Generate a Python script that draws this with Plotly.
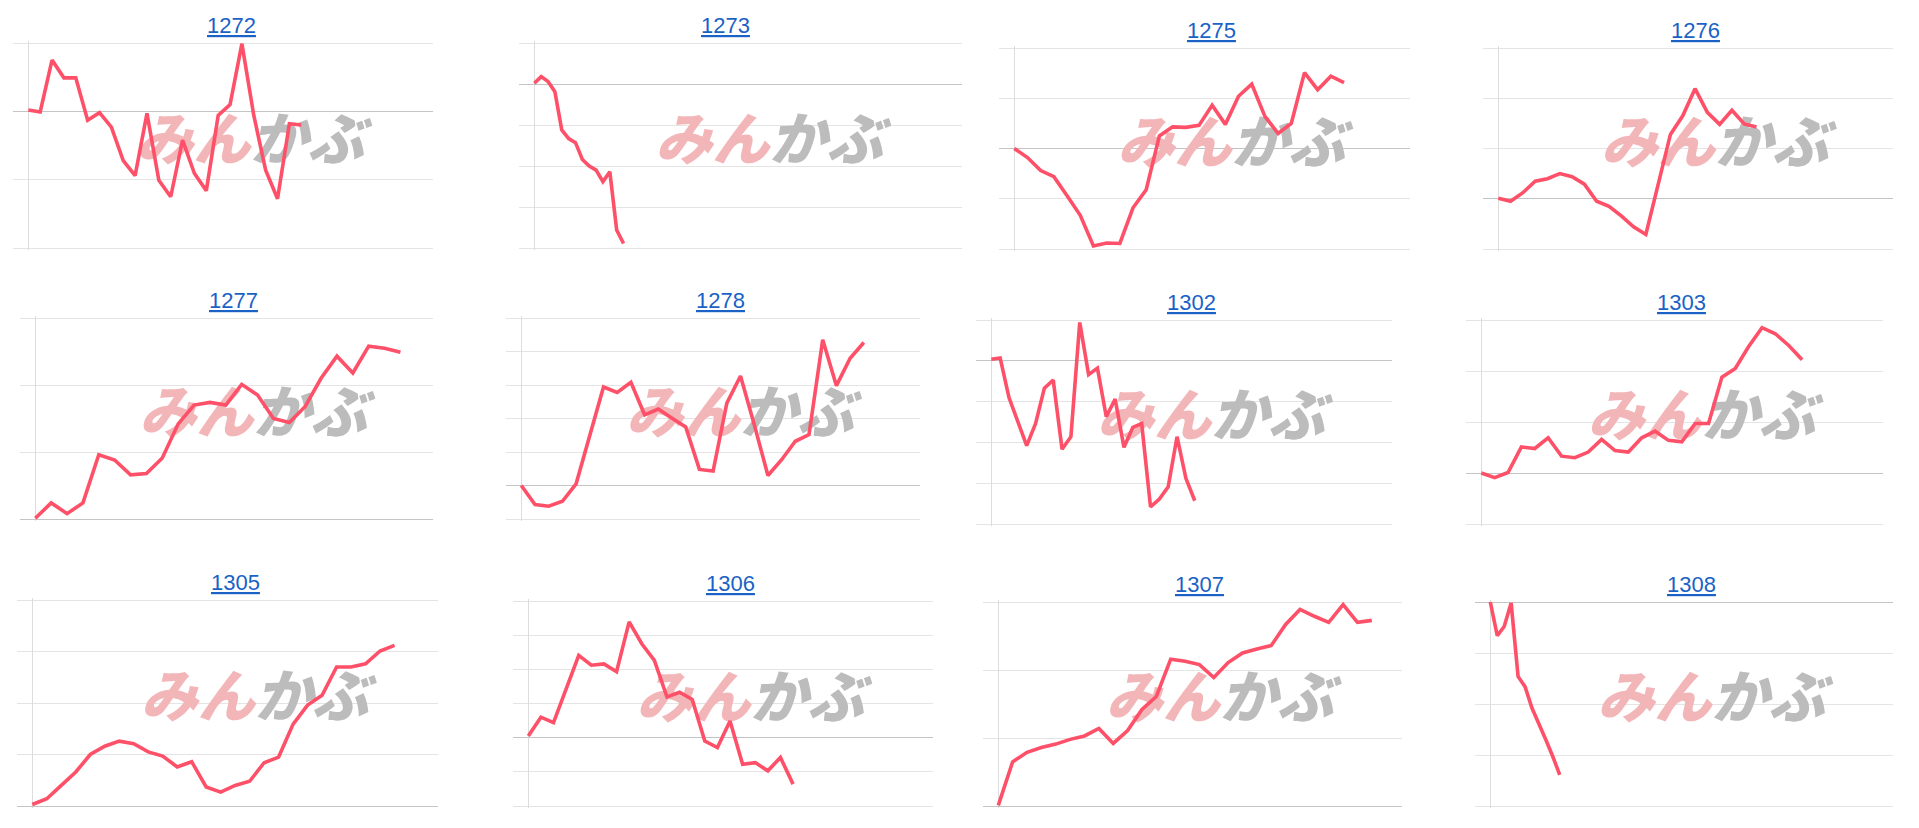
import plotly.graph_objects as go

tickers = ["1272", "1273", "1275", "1276", "1277", "1278",
           "1302", "1303", "1305", "1306", "1307", "1308"]

# change from the open, in grid steps
chg_1272 = [0.02, -0.01, 0.75, 0.49, 0.49, -0.13, -0.02, -0.23, -0.72, -0.94, -0.03, -1.01,
            -1.25, -0.42, -0.91, -1.16, -0.06, 0.10, 0.99, -0.06, -0.86, -1.28, -0.18, -0.20]
chg_1273 = [0.02, 0.18, 0.06, -0.19, -1.12, -1.33, -1.43, -1.84, -2.0, -2.1, -2.38, -2.14,
            -3.56, -3.89]
chg_1275 = [0.0, -0.18, -0.44, -0.56, -0.94, -1.33, -1.94, -1.88, -1.89, -1.18, -0.82, 0.25,
            0.43, 0.42, 0.46, 0.86, 0.48, 1.04, 1.28, 0.64, 0.30, 0.50, 1.51, 1.17, 1.44, 1.31]
chg_1276 = [0.01, -0.05, 0.12, 0.35, 0.40, 0.50, 0.44, 0.29, -0.05, -0.15, -0.34, -0.56,
            -0.71, 0.29, 1.28, 1.65, 2.19, 1.72, 1.48, 1.76, 1.49, 1.43]
chg_1277 = [0.01, 0.24, 0.08, 0.24, 0.96, 0.88, 0.66, 0.68, 0.91, 1.42, 1.70, 1.74,
            1.70, 2.01, 1.85, 1.50, 1.44, 1.68, 2.10, 2.43, 2.18, 2.58, 2.55, 2.49]
chg_1278 = [0.0, -0.57, -0.62, -0.47, 0.05, 1.52, 2.94, 2.78, 3.08, 2.11, 2.28, 2.01,
            1.75, 0.48, 0.43, 2.46, 3.27, 1.82, 0.30, 0.77, 1.32, 1.52, 4.35, 2.98, 3.80, 4.27]
chg_1302 = [0.04, 0.07, -0.90, -1.47, -2.08, -1.54, -0.67, -0.47, -2.17, -1.86, 0.94, -0.34,
            -0.18, -1.37, -0.94, -2.12, -1.63, -1.54, -3.58, -3.39, -3.09, -1.86, -2.88, -3.43]
chg_1303 = [0.0, -0.09, 0.01, 0.51, 0.48, 0.69, 0.33, 0.30, 0.41, 0.66, 0.44, 0.41,
            0.69, 0.82, 0.64, 0.61, 0.97, 0.97, 1.88, 2.05, 2.48, 2.85, 2.73, 2.50, 2.22]
chg_1305 = [0.03, 0.14, 0.40, 0.66, 1.00, 1.16, 1.26, 1.21, 1.05, 0.97, 0.76, 0.86,
            0.37, 0.27, 0.40, 0.48, 0.84, 0.95, 1.59, 1.96, 2.15, 2.70, 2.70, 2.76, 3.01, 3.12]
chg_1306 = [0.05, 0.60, 0.44, 1.41, 2.41, 2.12, 2.16, 1.93, 3.39, 2.75, 2.26, 1.19,
            1.33, 1.12, -0.10, -0.29, 0.49, -0.78, -0.73, -0.97, -0.58, -1.36]
chg_1307 = [0.01, 0.65, 0.79, 0.86, 0.91, 0.98, 1.03, 1.14, 0.92, 1.11, 1.42, 1.61,
            2.16, 2.13, 2.08, 1.89, 2.11, 2.25, 2.31, 2.36, 2.67, 2.89, 2.79, 2.70, 2.96,
            2.70, 2.73]
chg_1308 = [0.0, -0.66, -0.48, -0.02, -1.46, -1.66, -2.08, -2.38, -2.70, -3.03, -3.39]

series = [chg_1272, chg_1273, chg_1275, chg_1276, chg_1277, chg_1278,
          chg_1302, chg_1303, chg_1305, chg_1306, chg_1307, chg_1308]

# value range of each chart (grid every step, baseline at 0)
y_lo = [-2, -4, -2, -1, 0, -1, -4, -1, 0, -2, 0, -4]
y_hi = [1, 1, 2, 3, 3, 5, 1, 3, 4, 4, 3, 0]
# time slots spanned by each chart's x axis
x_slots = [34.1, 62.3, 30.0, 32.1, 25.05, 29.1, 45.3, 30.05, 28.0, 32.1, 28.1, 58.0]

# plot boxes on the page, pixels: left, right, top, bottom
boxes = [
    (13, 433, 43, 248), (519, 962, 43, 248), (999, 1410, 48, 249), (1483, 1893, 48, 249),
    (20, 433, 318, 519), (506, 920, 318, 519), (976, 1392, 320, 524), (1466, 1883, 320, 524),
    (17, 438, 600, 806), (513, 933, 601, 806), (983, 1402, 602, 806), (1475, 1893, 602, 806),
]
title_dx = [8, -15, 7, 7, 7, 7, 7, 7, 8, 7, 7, 7]

W, H, OFF = 1903, 812, 8
PAD = 15.3     # gap between grid start and first point, px
EDGE = 2.0     # extra px so edge gridlines are not clipped
LINE = "#fe5068"
GRID = "#e4e4e4"

fig = go.Figure()
annotations = []
for i, (tk, ys) in enumerate(zip(tickers, series)):
    n = i + 1
    L, R, T, B = boxes[i]
    x0 = -x_slots[i] * PAD / (R - L - PAD)
    xr = [x0, x_slots[i]]
    per_px = (y_hi[i] - y_lo[i]) / (B - T)
    yr = [y_lo[i] - EDGE * per_px, y_hi[i] + EDGE * per_px]
    xd = [(L - OFF) / W, (R - OFF) / W]
    yd = [1 - (B + EDGE - OFF) / H, 1 - (T - EDGE - OFF) / H]

    xa = "x" if n == 1 else f"x{n}"
    ya = "y" if n == 1 else f"y{n}"

    # watermark logo, drawn under the line
    fig.add_trace(go.Scatter(
        x=[xr[0] + 0.565 * (xr[1] - xr[0])],
        y=[y_lo[i] + 0.5 * (y_hi[i] - y_lo[i])],
        mode="text",
        text=['<span style="color:#f3b6b8">みん</span><span style="color:#bcbcbc">かぶ</span>'],
        textfont=dict(family="Noto Sans CJK JP", size=57, weight=900, style="italic"),
        hoverinfo="skip", showlegend=False, xaxis=xa, yaxis=ya,
    ))
    fig.add_trace(go.Scatter(
        x=list(range(len(ys))), y=ys, mode="lines",
        line=dict(color=LINE, width=3.6),
        showlegend=False, xaxis=xa, yaxis=ya,
    ))

    fig.layout[f"xaxis{n}"] = dict(
        domain=xd, range=xr, anchor=ya, showgrid=False, showticklabels=False,
        ticks="", zeroline=True, zerolinecolor="#dcdcdc", zerolinewidth=1, fixedrange=True,
    )
    fig.layout[f"yaxis{n}"] = dict(
        domain=yd, range=yr, anchor=xa, dtick=1, tick0=0, showgrid=True, gridcolor=GRID,
        gridwidth=1, showticklabels=False, ticks="", zeroline=True,
        zerolinecolor="#c4c4c4", zerolinewidth=1.2, fixedrange=True,
    )

    annotations.append(dict(
        text=f'<span style="text-decoration:underline">{tk}</span>',
        x=(xd[0] + xd[1]) / 2, y=1 - (T - OFF) / H, xref="paper", yref="paper",
        xanchor="center", yanchor="middle", xshift=title_dx[i], yshift=17.5,
        showarrow=False, font=dict(family="Liberation Sans, Arial", size=22, color="#1a62c6"),
    ))

fig.update_layout(
    width=W, height=H, margin=dict(l=0, r=0, t=0, b=0),
    paper_bgcolor="white", plot_bgcolor="white",
    annotations=annotations,
)

fig.write_html("out.html")
